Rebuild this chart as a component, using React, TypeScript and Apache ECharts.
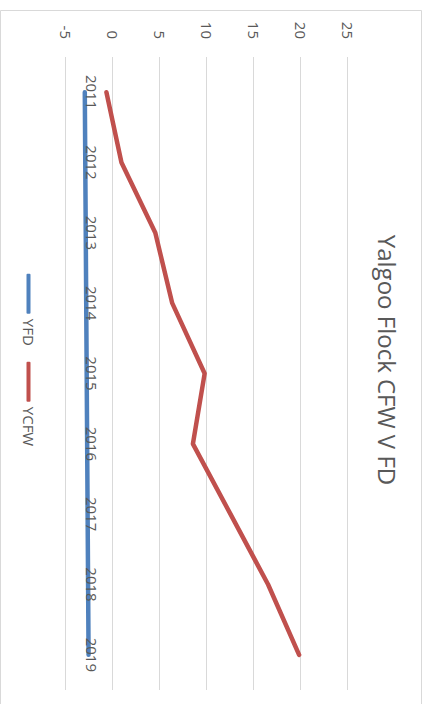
import React, { useEffect, useRef } from "react";
import * as echarts from "echarts";

const years = ["2011", "2012", "2013", "2014", "2015", "2016", "2017", "2018", "2019"];
const yfd = [-3.0, -2.95, -2.9, -2.85, -2.8, -2.75, -2.7, -2.65, -2.6];
const ycfw = [-0.7, 0.9, 4.5, 6.3, 9.75, 8.5, 12.5, 16.5, 19.8];
const valueMin = -5;
const valueMax = 25;
const valueStep = 5;

const W = 700;
const H = 422;
const GRID_TOP = 74;
const GRID_BOTTOM = 66;
const FONT = "'Open Sans', sans-serif";
const TXT = "#595959";

// offset so the category axis sits on the value 0 line
const plotH = H - GRID_TOP - GRID_BOTTOM;
const zeroOffset = -((0 - valueMin) / (valueMax - valueMin)) * plotH;

export default function App() {
  const ref = useRef<HTMLDivElement>(null);
  useEffect(() => {
    if (!ref.current) return;
    const chart = echarts.init(ref.current, undefined, { renderer: "svg" });
    chart.setOption({
      animation: false,
      backgroundColor: "#ffffff",
      textStyle: { fontFamily: FONT },
      title: {
        text: "Yalgoo Flock CFW V FD",
        left: "center",
        top: 18,
        textStyle: { fontFamily: FONT, fontSize: 24, fontWeight: "normal", color: TXT },
      },
      legend: {
        left: "center",
        top: 381,
        itemWidth: 40,
        itemHeight: 4,
        itemGap: 16,
        icon: "roundRect",
        textStyle: { fontFamily: FONT, fontSize: 15, color: TXT },
        data: ["YFD", "YCFW"],
      },
      grid: { left: 47, right: 20, top: GRID_TOP, bottom: GRID_BOTTOM, containLabel: false },
      xAxis: {
        type: "category",
        data: years,
        boundaryGap: true,
        offset: zeroOffset,
        z: 5,
        axisLine: { show: false, onZero: false },
        axisTick: { show: false },
        axisLabel: { fontFamily: FONT, fontSize: 15, color: TXT, margin: 14 },
      },
      yAxis: {
        type: "value",
        min: valueMin,
        max: valueMax,
        interval: valueStep,
        axisLine: { show: false },
        axisTick: { show: false },
        axisLabel: { fontFamily: FONT, fontSize: 15, color: TXT, margin: 18 },
        splitLine: { lineStyle: { color: "#d9d9d9", width: 1 } },
      },
      graphic: [
        {
          type: "rect",
          shape: { x: 0.5, y: 0.5, width: W - 1, height: H - 1 },
          style: { fill: "none", stroke: "#d9d9d9", lineWidth: 1 },
          silent: true,
        },
      ],
      series: [
        {
          name: "YFD",
          type: "line",
          data: yfd,
          symbol: "none",
          z: 2,
          lineStyle: { color: "#4F81BD", width: 4.5, cap: "round", join: "round" },
          itemStyle: { color: "#4F81BD" },
        },
        {
          name: "YCFW",
          type: "line",
          data: ycfw,
          symbol: "none",
          z: 2,
          lineStyle: { color: "#C0504D", width: 4.5, cap: "round", join: "round" },
          itemStyle: { color: "#C0504D" },
        },
      ],
    });
    return () => chart.dispose();
  }, []);

  return (
    <div
      style={{
        position: "fixed",
        left: 0,
        top: 0,
        width: 427,
        height: 704,
        overflow: "hidden",
        background: "#ffffff",
      }}
    >
      <div
        style={{
          position: "absolute",
          left: 0,
          top: 10,
          width: W,
          height: H,
          transformOrigin: "0 0",
          transform: `translateX(${H}px) rotate(90deg)`,
        }}
      >
        <div ref={ref} style={{ width: W, height: H }} />
      </div>
    </div>
  );
}
